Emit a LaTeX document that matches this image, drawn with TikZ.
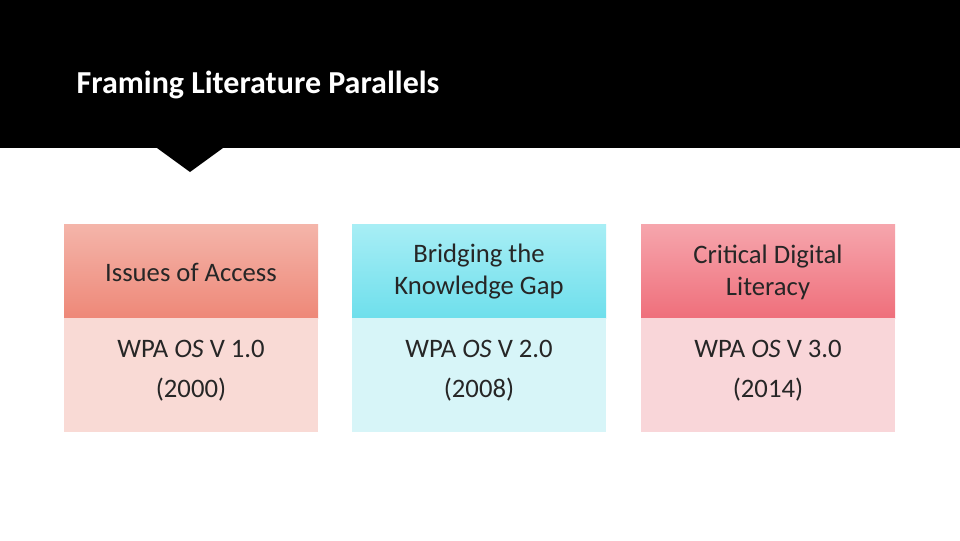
\documentclass[tikz,border=0pt]{standalone}
\usepackage{fontspec}
\setmainfont{Carlito}
\begin{document}
\begin{tikzpicture}[x=0.75pt,y=-0.75pt,
 hdr/.style={font=\fontsize{20}{24}\selectfont,align=center,text=black!85},
 bod/.style={font=\fontsize{20}{30}\selectfont,align=center,text=black!85}]
\useasboundingbox (0,0) rectangle (960,540);
\fill[white] (0,0) rectangle (960,540);
\fill[black] (0,0) rectangle (960,148);
\fill[black] (157,148) -- (223,148) -- (190,172) -- cycle;
\node[anchor=west,font=\fontsize{24}{28}\selectfont\bfseries,text=white] (title) at (72,85) {Framing Literature Parallels};
\definecolor{aT}{HTML}{F4B5AA}\definecolor{aB}{HTML}{EE8878}\definecolor{aL}{HTML}{F9DAD5}
\definecolor{bT}{HTML}{A8EEF5}\definecolor{bB}{HTML}{6EDFEC}\definecolor{bL}{HTML}{D7F5F8}
\definecolor{cT}{HTML}{F6A6AD}\definecolor{cB}{HTML}{EF6F7B}\definecolor{cL}{HTML}{F9D6D9}
\shade[top color=aT,bottom color=aB] (64,224) rectangle (318,318);
\fill[aL] (64,318) rectangle (318,432);
\shade[top color=bT,bottom color=bB] (352,224) rectangle (606,318);
\fill[bL] (352,318) rectangle (606,432);
\shade[top color=cT,bottom color=cB] (641,224) rectangle (895,318);
\fill[cL] (641,318) rectangle (895,432);
\node[hdr] (h1) at (191,272) {Issues of Access};
\node[hdr] (h2) at (479,272) {Bridging the\\Knowledge Gap};
\node[hdr] (h3) at (768,272) {Critical Digital\\Literacy};
\node[bod] (b1) at (191,371) {WPA \textit{OS} V 1.0\\(2000)};
\node[bod] (b2) at (479,371) {WPA \textit{OS} V 2.0\\(2008)};
\node[bod] (b3) at (768,371) {WPA \textit{OS} V 3.0\\(2014)};
\end{tikzpicture}
\end{document}
